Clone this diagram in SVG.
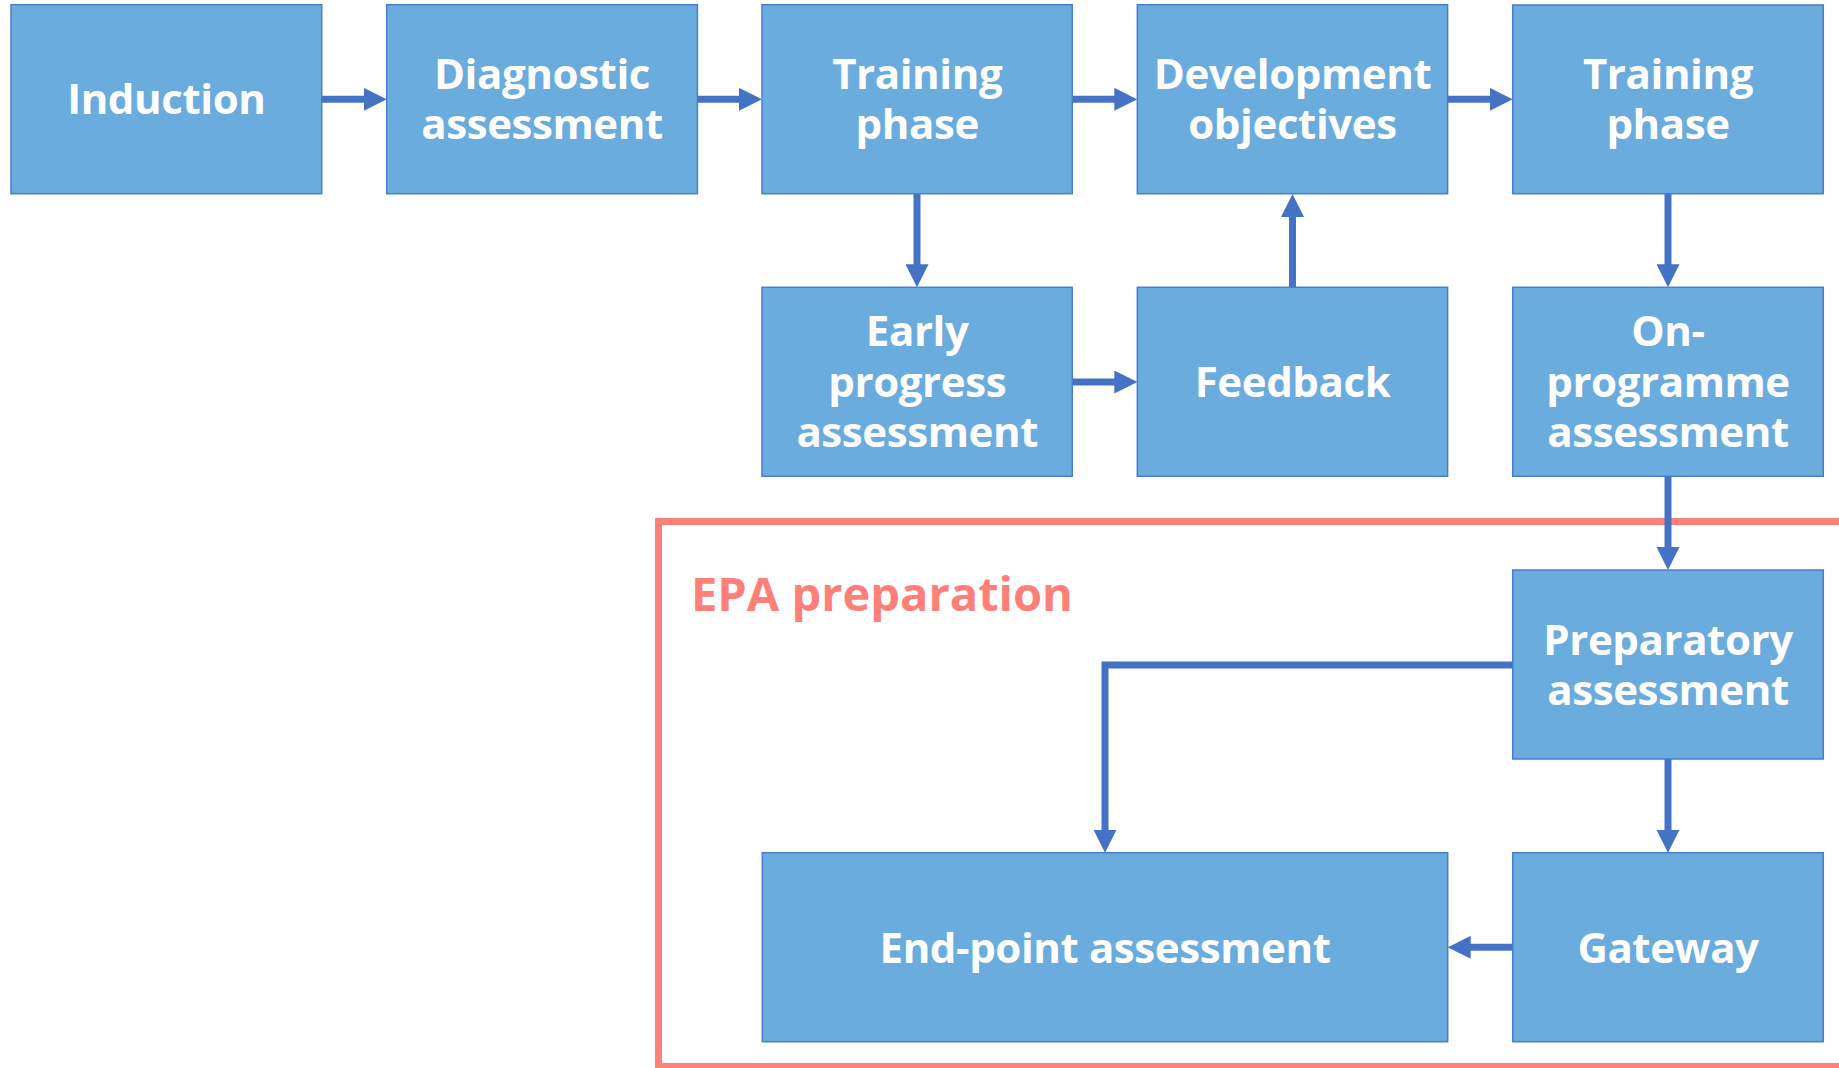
<svg xmlns="http://www.w3.org/2000/svg" width="1839" height="1068" viewBox="0 0 1839 1068">
<defs>
<style>
.box{fill:#6BACDE;stroke:#4A7DCB;stroke-width:1.5}
.lbl{font-family:"Open Sans","Noto Sans","Liberation Sans",sans-serif;font-weight:bold;font-size:42px;letter-spacing:-0.4px;fill:#FFFFFF;text-anchor:middle}
.con{fill:none;stroke:#4472C4;stroke-width:7}
.frame{fill:none;stroke:#FF7F79;stroke-width:7}
.title{font-family:"Open Sans","Noto Sans","Liberation Sans",sans-serif;font-weight:bold;font-size:47px;fill:#FF7F79}
</style>
<marker id="ah" markerUnits="userSpaceOnUse" markerWidth="23" markerHeight="23" viewBox="0 0 23 23" refX="11" refY="11.5" orient="auto">
<path d="M0,0 L23,11.5 L0,23 z" fill="#4472C4"/>
</marker>
</defs>
<rect class="frame" x="658.5" y="521.5" width="1300" height="545"/>
<text class="title" x="691" y="611">EPA preparation</text>
<g id="connectors">
<path class="con" marker-end="url(#ah)" d="M321.7,99.3 H374.7"/>
<path class="con" marker-end="url(#ah)" d="M697.3,99.3 H750"/>
<path class="con" marker-end="url(#ah)" d="M1072.3,99.3 H1125.3"/>
<path class="con" marker-end="url(#ah)" d="M1447.7,99.3 H1500.7"/>
<path class="con" marker-end="url(#ah)" d="M917,194 V275.3"/>
<path class="con" marker-end="url(#ah)" d="M1072.3,382 H1125.3"/>
<path class="con" marker-end="url(#ah)" d="M1292.5,287.3 V206"/>
<path class="con" marker-end="url(#ah)" d="M1668,193.7 V275.3"/>
<path class="con" marker-end="url(#ah)" d="M1668,476 V558"/>
<path class="con" marker-end="url(#ah)" d="M1668,759 V840.7"/>
<path class="con" marker-end="url(#ah)" d="M1512.7,947.3 H1459.7"/>
<path class="con" marker-end="url(#ah)" d="M1512.7,665 H1105 V840.7"/>
</g>
<g id="induction"><rect class="box" x="11" y="4.7" width="310.7" height="189"/><text class="lbl" x="166.3" y="114">Induction</text></g>
<g id="diagnostic"><rect class="box" x="386.7" y="4.7" width="310.7" height="189"/><text class="lbl" x="542" y="89.3">Diagnostic</text><text class="lbl" x="542" y="139.3">assessment</text></g>
<g id="training1"><rect class="box" x="762" y="4.7" width="310.3" height="189"/><text class="lbl" x="917.2" y="89.3">Training</text><text class="lbl" x="917.2" y="139.3">phase</text></g>
<g id="development"><rect class="box" x="1137.3" y="4.7" width="310.3" height="189"/><text class="lbl" x="1292.5" y="89.3">Development</text><text class="lbl" x="1292.5" y="139.3">objectives</text></g>
<g id="training2"><rect class="box" x="1512.7" y="5" width="310.6" height="188.7"/><text class="lbl" x="1668" y="89.3">Training</text><text class="lbl" x="1668" y="139.3">phase</text></g>
<g id="early"><rect class="box" x="762" y="287.3" width="310.3" height="189"/><text class="lbl" x="917.2" y="345.7">Early</text><text class="lbl" x="917.2" y="396.5">progress</text><text class="lbl" x="917.2" y="446.7">assessment</text></g>
<g id="feedback"><rect class="box" x="1137.3" y="287.3" width="310.3" height="189"/><text class="lbl" x="1292.5" y="396.5">Feedback</text></g>
<g id="onprogramme"><rect class="box" x="1512.7" y="287.3" width="310.6" height="189"/><text class="lbl" x="1668" y="345.7">On-</text><text class="lbl" x="1668" y="396.5">programme</text><text class="lbl" x="1668" y="446.7">assessment</text></g>
<g id="preparatory"><rect class="box" x="1512.7" y="570" width="310.6" height="189"/><text class="lbl" x="1668" y="654.5">Preparatory</text><text class="lbl" x="1668" y="704.5">assessment</text></g>
<g id="endpoint"><rect class="box" x="762.3" y="852.7" width="685.4" height="189"/><text class="lbl" x="1105" y="962.5">End-point assessment</text></g>
<g id="gateway"><rect class="box" x="1512.7" y="852.7" width="310.6" height="189"/><text class="lbl" x="1668" y="962.5">Gateway</text></g>
</svg>
